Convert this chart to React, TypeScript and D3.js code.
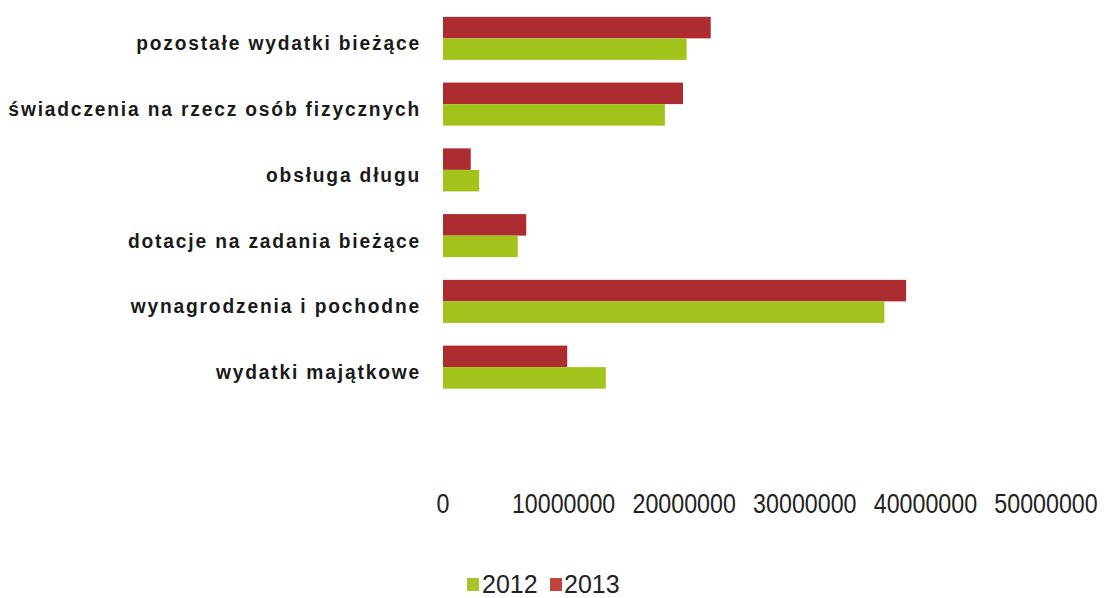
import React from "react";
import * as d3 from "d3";

const categories = [
  "pozostałe wydatki bieżące",
  "świadczenia na rzecz osób fizycznych",
  "obsługa długu",
  "dotacje na zadania bieżące",
  "wynagrodzenia i pochodne",
  "wydatki majątkowe",
];
const values2012 = [20200000, 18400000, 3000000, 6200000, 36600000, 13500000];
const values2013 = [22200000, 19900000, 2300000, 6900000, 38400000, 10300000];
const seriesNames = ["2012", "2013"];
const tickValues = [0, 10000000, 20000000, 30000000, 40000000, 50000000];

const W = 1107;
const H = 598;
const RED = "#ad2c30";
const GREEN = "#a2c31c";

export default function App() {
  const x = d3.scaleLinear().domain([0, 50000000]).range([443, 1046]);
  const y = d3
    .scaleBand<string>()
    .domain(categories)
    .range([5.5, 400])
    .paddingInner(0.345)
    .paddingOuter(0.1725);
  const sub = d3
    .scaleBand<string>()
    .domain(["2013", "2012"])
    .range([0, y.bandwidth()]);

  const font = "'Liberation Sans', Arial, sans-serif";

  return (
    <svg
      width={W}
      height={H}
      style={{ position: "absolute", left: 0, top: 0, background: "#fff" }}
    >
      <rect x={0} y={0} width={W} height={H} fill="#fff" />
      {categories.map((c, i) => {
        const y0 = y(c)!;
        return (
          <g key={c}>
            <rect
              x={x(0)}
              y={y0 + sub("2013")!}
              width={x(values2013[i]) - x(0)}
              height={sub.bandwidth()}
              fill={RED}
            />
            <rect
              x={x(0)}
              y={y0 + sub("2012")!}
              width={x(values2012[i]) - x(0)}
              height={sub.bandwidth()}
              fill={GREEN}
            />
            <text
              transform={`translate(421,${y0 + y.bandwidth() / 2 + 12}) scale(0.915,1)`}
              textAnchor="end"
              fontFamily={font}
              fontWeight="bold"
              fontSize={21}
              letterSpacing={2}
              fill="#1a1a1a"
            >
              {c}
            </text>
          </g>
        );
      })}
      {tickValues.map((t) => (
        <text
          key={t}
          transform={`translate(${x(t)},513) scale(0.83,1)`}
          textAnchor="middle"
          fontFamily={font}
          fontSize={28}
          fill="#222"
        >
          {d3.format("d")(t)}
        </text>
      ))}
      <g>
        <rect x={467} y={578} width={12} height={13} fill="#a8c42a" />
        <text x={482} y={593} fontFamily={font} fontSize={25} fill="#222">
          {seriesNames[0]}
        </text>
        <rect x={550} y={578} width={12} height={13} fill="#c0453f" />
        <text x={564} y={593} fontFamily={font} fontSize={25} fill="#222">
          {seriesNames[1]}
        </text>
      </g>
    </svg>
  );
}
